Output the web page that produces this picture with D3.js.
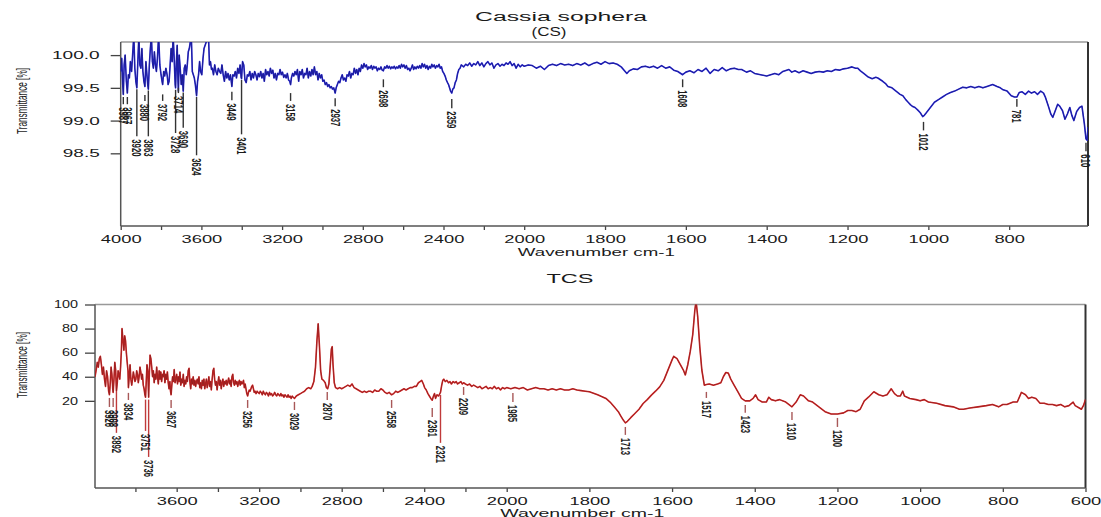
<!DOCTYPE html>
<html>
<head>
<meta charset="utf-8">
<script src="https://cdn.jsdelivr.net/npm/d3@7"></script>
<style>
  body { margin: 0; background: #fff; }
  text { font-family: "Liberation Sans", Arial, sans-serif; fill: #1a1a1a; }
</style>
</head>
<body>
<svg id="chart" width="1101" height="517"></svg>
<script>
// ---- data ----
// Cassia sophera (CS): [wavenumber, transmittance %]
const csSpectrum = [
  [4000,99.75],[3995,99.95],[3990,99.55],[3987,99.40],[3983,99.85],[3978,100.0],[3972,99.6],[3967,99.42],
  [3962,99.7],[3957,99.65],[3952,99.9],[3946,99.75],[3940,100.05],[3935,100.3],[3930,99.8],[3925,99.6],
  [3920,99.5],[3915,99.9],[3910,100.3],[3905,99.85],[3900,99.8],[3895,100.1],[3890,99.75],[3885,99.6],
  [3880,99.52],[3875,99.9],[3870,99.7],[3866,99.55],[3863,99.48],[3858,99.85],[3853,100.1],[3848,100.3],
  [3843,99.9],[3838,99.8],[3833,100.05],[3828,99.85],[3823,99.75],[3818,99.95],[3812,100.3],[3806,99.85],
  [3800,99.7],[3795,99.6],[3792,99.55],[3787,99.75],[3782,99.68],[3776,99.8],[3770,99.7],[3765,99.55],
  [3760,99.6],[3755,99.85],[3750,100.1],[3745,99.9],[3740,100.3],[3735,99.95],[3730,99.55],[3728,99.5],
  [3724,99.9],[3720,100.15],[3716,99.6],[3714,99.45],[3710,100.0],[3705,99.8],[3700,99.55],[3695,99.7],
  [3690,99.45],[3685,99.8],[3680,99.85],[3675,99.7],[3670,99.85],[3665,100.05],[3660,100.1],[3650,100.3],
  [3645,99.75],[3640,99.7],[3635,99.65],[3630,99.55],[3624,99.38],[3619,99.6],[3614,99.7],[3609,99.9],
  [3604,99.75],[3598,99.7],[3592,99.95],[3587,100.1],[3565,100.3],[3560,99.85],[3555,99.9],[3550,99.78],
  [3546,99.8],[3540,99.7],[3534,99.85],[3528,99.75],[3522,99.7],[3516,99.8],[3510,99.75],[3504,99.72],
  [3498,99.85],[3492,99.7],[3486,99.6],[3480,99.75],[3474,99.65],[3468,99.72],[3462,99.62],[3456,99.7],
  [3449,99.52],[3444,99.7],[3438,99.68],[3432,99.75],[3426,99.65],[3420,99.8],[3414,99.72],[3408,99.85],
  [3403,99.66],[3401,99.64],[3396,99.9],[3390,99.85],[3384,99.62],[3378,99.58],[3372,99.7],[3366,99.68],
  [3360,99.75],[3354,99.62],[3348,99.72],[3342,99.65],[3336,99.75],[3330,99.7],[3324,99.62],[3318,99.72],
  [3312,99.67],[3306,99.75],[3300,99.65],[3294,99.72],[3288,99.6],[3282,99.78],[3276,99.7],[3270,99.75],
  [3264,99.68],[3258,99.8],[3252,99.72],[3246,99.77],[3240,99.65],[3234,99.72],[3228,99.62],[3222,99.72],
  [3216,99.7],[3210,99.78],[3204,99.7],[3198,99.74],[3192,99.66],[3186,99.7],[3180,99.65],[3174,99.72],
  [3168,99.62],[3162,99.6],[3158,99.55],[3154,99.65],[3148,99.72],[3142,99.68],[3136,99.75],[3130,99.7],
  [3124,99.78],[3118,99.6],[3112,99.75],[3106,99.7],[3100,99.78],[3094,99.65],[3088,99.72],[3082,99.7],
  [3076,99.8],[3070,99.65],[3064,99.75],[3058,99.68],[3052,99.78],[3046,99.7],[3040,99.82],[3034,99.7],
  [3028,99.75],[3022,99.62],[3016,99.72],[3010,99.65],[3004,99.7],[2998,99.6],[2992,99.62],[2986,99.55],
  [2980,99.58],[2974,99.52],[2968,99.55],[2962,99.5],[2956,99.52],[2950,99.48],[2944,99.5],[2937,99.42],
  [2932,99.5],[2926,99.55],[2920,99.6],[2914,99.58],[2908,99.65],[2902,99.7],[2896,99.62],[2890,99.65],
  [2884,99.6],[2878,99.7],[2872,99.68],[2866,99.75],[2860,99.65],[2854,99.72],[2848,99.7],[2842,99.8],
  [2836,99.72],[2830,99.78],[2824,99.7],[2818,99.8],[2812,99.75],[2806,99.85],[2800,99.8],[2794,99.87],
  [2788,99.82],[2782,99.85],[2776,99.78],[2770,99.82],[2764,99.8],[2758,99.84],[2752,99.78],[2746,99.83],
  [2740,99.8],[2734,99.82],[2728,99.76],[2722,99.8],[2716,99.78],[2710,99.82],[2704,99.77],[2698,99.76],
  [2692,99.82],[2686,99.8],[2680,99.84],[2674,99.8],[2668,99.83],[2662,99.79],[2656,99.82],[2650,99.8],
  [2644,99.83],[2638,99.79],[2632,99.82],[2626,99.8],[2620,99.84],[2614,99.8],[2608,99.86],[2602,99.82],
  [2596,99.85],[2590,99.8],[2584,99.84],[2578,99.78],[2572,99.8],[2566,99.76],[2560,99.8],[2554,99.85],
  [2548,99.78],[2542,99.82],[2536,99.79],[2530,99.83],[2524,99.8],[2518,99.84],[2512,99.8],[2506,99.87],
  [2500,99.82],[2494,99.86],[2488,99.8],[2482,99.84],[2476,99.78],[2470,99.83],[2464,99.8],[2458,99.86],
  [2452,99.82],[2446,99.85],[2440,99.8],[2434,99.84],[2428,99.82],[2422,99.86],[2416,99.8],[2410,99.82],
  [2404,99.75],[2398,99.72],[2392,99.68],[2386,99.62],[2380,99.58],[2375,99.55],[2370,99.5],[2365,99.45],
  [2359,99.42],[2354,99.48],[2348,99.5],[2342,99.58],[2336,99.62],[2330,99.72],[2324,99.78],[2318,99.8],
  [2312,99.85],[2300,99.82],[2290,99.86],[2280,99.84],[2270,99.88],[2260,99.83],[2250,99.87],[2240,99.85],
  [2230,99.9],[2220,99.84],[2210,99.88],[2200,99.82],[2190,99.87],[2180,99.9],[2170,99.85],[2160,99.88],
  [2150,99.8],[2140,99.85],[2130,99.87],[2120,99.83],[2110,99.86],[2100,99.84],[2090,99.88],[2080,99.86],
  [2070,99.9],[2060,99.84],[2050,99.87],[2040,99.8],[2030,99.86],[2020,99.82],[2010,99.85],[2000,99.83],
  [1990,99.85],[1980,99.84],[1970,99.8],[1960,99.83],[1950,99.78],[1940,99.84],[1930,99.86],[1920,99.84],
  [1910,99.87],[1900,99.85],[1890,99.86],[1880,99.84],[1870,99.87],[1860,99.85],[1850,99.88],[1840,99.84],
  [1830,99.87],[1820,99.89],[1810,99.86],[1800,99.9],[1790,99.87],[1780,99.88],[1770,99.86],[1760,99.82],
  [1746,99.72],[1740,99.76],[1730,99.79],[1720,99.78],[1710,99.82],[1700,99.83],[1690,99.81],[1680,99.83],
  [1670,99.8],[1660,99.84],[1650,99.8],[1640,99.82],[1630,99.77],[1620,99.75],[1608,99.7],[1600,99.74],
  [1590,99.76],[1580,99.73],[1570,99.78],[1560,99.75],[1550,99.8],[1540,99.72],[1530,99.78],[1520,99.76],
  [1510,99.81],[1500,99.76],[1490,99.79],[1480,99.8],[1470,99.78],[1462,99.78],[1450,99.74],[1440,99.76],
  [1430,99.72],[1415,99.7],[1400,99.68],[1390,99.7],[1380,99.72],[1370,99.7],[1360,99.75],[1345,99.78],
  [1338,99.74],[1330,99.76],[1320,99.73],[1310,99.76],[1300,99.74],[1290,99.72],[1280,99.74],[1270,99.75],
  [1260,99.74],[1250,99.76],[1240,99.75],[1230,99.78],[1220,99.77],[1210,99.79],[1200,99.8],[1189,99.82],
  [1180,99.8],[1175,99.8],[1168,99.76],[1160,99.72],[1150,99.67],[1139,99.64],[1130,99.66],[1125,99.65],
  [1113,99.6],[1105,99.56],[1100,99.52],[1090,99.5],[1080,99.45],[1070,99.4],[1063,99.38],[1056,99.32],
  [1050,99.28],[1044,99.24],[1040,99.22],[1033,99.2],[1026,99.16],[1020,99.12],[1014,99.06],[1010,99.08],
  [1005,99.12],[995,99.2],[985,99.28],[975,99.32],[965,99.36],[955,99.4],[945,99.43],[935,99.45],
  [925,99.48],[915,99.51],[905,99.5],[895,99.52],[885,99.5],[875,99.52],[865,99.5],[855,99.52],
  [841,99.55],[830,99.52],[822,99.5],[815,99.47],[805,99.45],[795,99.38],[787,99.36],[781,99.36],
  [775,99.43],[768,99.44],[760,99.4],[752,99.45],[745,99.42],[737,99.44],[730,99.4],[722,99.45],
  [715,99.42],[710,99.35],[703,99.22],[697,99.1],[692,99.05],[686,99.15],[680,99.25],[675,99.22],
  [668,99.15],[662,99.02],[656,99.1],[650,99.2],[645,99.08],[640,99.0],[633,99.14],[626,99.2],
  [620,99.22],[614,98.95],[610,98.72],[607,98.7],[605,98.9]
];
// CS peak marks: [wavenumber, line start %, line end %]
const csPeaks = [
  [3987,99.36,99.25],[3967,99.36,99.25],[3920,99.48,98.76],[3880,99.39,99.30],[3863,99.46,98.76],
  [3792,99.40,99.30],[3728,99.47,98.81],[3714,99.50,99.42],[3690,99.43,98.89],[3624,99.36,98.47],
  [3449,99.44,99.31],[3401,99.62,98.79],[3158,99.42,99.30],[2937,99.34,99.22],[2698,99.63,99.51],
  [2359,99.33,99.19],[1608,99.63,99.51],[1012,98.98,98.85],[781,99.33,99.21],[610,98.66,98.53]
];

// TCS: [wavenumber, transmittance %]
const tcsSpectrum = [
  [3996,40],[3990,46],[3985,52],[3980,48],[3975,55],[3970,57],[3965,50],[3960,42],[3955,48],[3950,38],
  [3945,32],[3940,45],[3935,40],[3930,28],[3926,25],[3922,35],[3918,48],[3914,42],[3910,30],[3908,27],
  [3904,38],[3900,52],[3896,46],[3892,28],[3888,35],[3884,45],[3880,42],[3876,38],[3872,48],[3868,62],
  [3865,80],[3861,72],[3856,62],[3852,74],[3848,70],[3844,60],[3840,52],[3836,45],[3834,31],[3830,40],
  [3826,50],[3822,38],[3818,33],[3814,38],[3810,44],[3806,40],[3802,36],[3798,38],[3794,45],[3790,42],
  [3786,35],[3782,40],[3778,48],[3774,44],[3770,38],[3766,42],[3762,33],[3758,30],[3754,25],[3751,23],
  [3747,38],[3744,50],[3740,45],[3736,23],[3733,40],[3729,58],[3725,55],[3721,48],[3717,40],[3713,45],
  [3709,35],[3705,42],[3701,38],[3697,48],[3693,40],[3689,34],[3685,45],[3681,38],[3677,44],[3673,36],
  [3669,42],[3665,40],[3661,45],[3657,35],[3653,42],[3649,38],[3645,44],[3641,35],[3637,30],[3633,36],
  [3630,28],[3627,25],[3624,32],[3620,40],[3616,36],[3612,46],[3608,35],[3604,38],[3600,42],[3596,34],
  [3592,40],[3588,36],[3584,44],[3580,33],[3576,38],[3572,35],[3568,42],[3564,32],[3560,37],[3556,34],
  [3552,40],[3548,36],[3544,45],[3540,47],[3536,36],[3532,30],[3528,38],[3524,34],[3520,40],[3516,33],
  [3512,37],[3508,32],[3504,36],[3500,38],[3496,34],[3492,40],[3488,31],[3484,35],[3480,30],[3476,37],
  [3472,33],[3468,38],[3464,30],[3460,34],[3456,38],[3452,31],[3448,35],[3444,40],[3440,32],[3436,36],
  [3432,29],[3428,38],[3424,45],[3420,47],[3416,38],[3412,33],[3408,36],[3404,29],[3400,35],[3396,40],
  [3392,33],[3388,37],[3384,30],[3380,35],[3376,38],[3372,32],[3368,36],[3364,34],[3360,37],[3356,33],
  [3352,36],[3348,39],[3344,34],[3340,37],[3336,32],[3332,40],[3328,42],[3324,35],[3320,33],[3316,37],
  [3312,34],[3308,36],[3304,32],[3300,35],[3296,37],[3292,33],[3288,36],[3284,34],[3280,35],[3276,37],
  [3272,31],[3268,34],[3264,30],[3260,26],[3256,24],[3252,27],[3248,29],[3244,28],[3240,30],[3236,32],
  [3232,33],[3228,30],[3224,27],[3220,28],[3215,26],[3210,28],[3205,27],[3200,26],[3195,28],[3190,27],
  [3185,25],[3180,28],[3175,26],[3170,25],[3165,27],[3160,26],[3155,24],[3150,27],[3145,25],[3140,26],
  [3135,24],[3130,25],[3125,27],[3120,25],[3115,24],[3110,26],[3105,25],[3100,24],[3095,26],[3090,24],
  [3085,25],[3080,23],[3075,25],[3070,24],[3065,23],[3060,25],[3055,23],[3050,24],[3045,22],[3040,24],
  [3035,23],[3029,22],[3020,24],[3010,25],[3000,26],[2990,27],[2980,28],[2970,30],[2960,31],[2950,30],
  [2943,32],[2935,36],[2927,48],[2920,70],[2914,84],[2908,66],[2902,45],[2896,38],[2888,37],[2880,35],
  [2874,31],[2868,30],[2862,34],[2856,48],[2850,63],[2846,65],[2842,50],[2836,35],[2830,31],[2820,30],
  [2810,31],[2800,30],[2790,31],[2780,32],[2770,33],[2760,32],[2750,34],[2740,31],[2730,30],[2720,29],
  [2710,28],[2700,27],[2690,28],[2680,27],[2670,28],[2660,28],[2650,27],[2640,29],[2630,28],[2620,28],
  [2610,30],[2600,29],[2590,27],[2580,26],[2570,27],[2558,25],[2548,26],[2538,28],[2528,27],[2518,28],
  [2508,29],[2498,30],[2488,29],[2478,30],[2468,31],[2458,31],[2448,32],[2438,32],[2428,35],[2420,36],
  [2412,37],[2404,34],[2398,31],[2390,29],[2382,26],[2375,24],[2368,22],[2361,20.5],[2355,24],[2350,26],
  [2345,22],[2338,25],[2330,24],[2321,27],[2315,33],[2310,37],[2305,38],[2298,36],[2290,37],[2282,35],
  [2275,36],[2268,34],[2260,36],[2252,35],[2245,36],[2238,34],[2230,35],[2222,36],[2215,34],[2209,35],
  [2200,34],[2190,33],[2180,34],[2170,32],[2160,33],[2150,32],[2140,31],[2130,32],[2120,30],[2110,31],
  [2100,32],[2090,30],[2080,31],[2070,30],[2060,32],[2050,30],[2040,31],[2030,29],[2020,31],[2010,30],
  [2000,31],[1990,30],[1980,31],[1970,30],[1960,31],[1950,29],[1940,30],[1930,31],[1920,30],[1910,30],
  [1900,29],[1890,30],[1880,29],[1870,30],[1860,29],[1850,29],[1840,30],[1830,29],[1820,28.5],[1810,28],
  [1800,27.5],[1780,25],[1760,22],[1750,19],[1740,15],[1730,11],[1725,8],[1718,4],[1713,1.7],[1708,3],
  [1700,6],[1690,9.5],[1680,13],[1670,17.8],[1660,21],[1650,24.7],[1640,28],[1630,31.6],[1620,37],[1610,45.5],
  [1600,54],[1596,57],[1588,55],[1580,50],[1572,45],[1568,41.5],[1562,50],[1556,61],[1550,75],[1545,95],
  [1542,103],[1538,90],[1533,65],[1528,45.6],[1522,33],[1517,33.5],[1510,34],[1500,33],[1490,34],[1482,35],
  [1476,40],[1470,43.5],[1464,43],[1458,38],[1450,33],[1440,27],[1432,22],[1423,20],[1412,20],[1404,22],
  [1398,25],[1392,21],[1382,19],[1372,19],[1366,23],[1360,21],[1350,20],[1340,21],[1325,19],[1310,15],
  [1300,19],[1290,25],[1282,24],[1270,20],[1260,19],[1245,15],[1230,11],[1215,9],[1200,9],[1185,10],
  [1175,12],[1165,12],[1155,11],[1145,13],[1135,20],[1125,23],[1112,27.5],[1100,25],[1090,24],[1080,25],
  [1070,30],[1062,26],[1055,24],[1048,24],[1042,28],[1038,24],[1025,22],[1010,21],[1000,20],[990,21],
  [980,19],[960,18],[940,16],[920,15],[905,13],[895,13],[880,14],[860,15],[840,16],[825,17],
  [810,15],[800,17],[790,17],[775,19],[765,19],[755,27],[745,25],[738,22],[730,23],[720,22],
  [710,18],[700,18],[690,17],[680,17],[670,16],[660,17],[650,15],[640,16],[630,19],[625,16],
  [615,14],[610,13],[605,16],[600,21]
];
// TCS peak marks: [wavenumber, line start %, line end %]
const tcsPeaks = [
  [3926,22.4,14.9],[3908,22.4,14.9],[3892,27.4,-6.6],[3834,26.6,20.7],[3751,21,-5],[3736,21,-26.6],
  [3627,20.7,14.1],[3256,20.7,14.1],[3029,19.1,12.4],[2870,27.4,20.7],[2558,20.7,14.1],[2361,14.1,6.6],
  [2321,24.9,-14.9],[2209,31.5,24.9],[1985,26.6,19.1],[1713,-1.7,-8.3],[1517,27.4,22.4],[1423,16.6,10],
  [1310,10.8,4.1],[1200,5.8,-1.7]
];
const longLines = [3920, 3863, 3728, 3690, 3624, 3401, 3892, 3751, 3736, 2321];

const csYTicks = [100, 99.5, 99, 98.5];
const tcsYTicks = [20, 40, 60, 80, 100];
const xTicks = [4000,3800,3600,3400,3200,3000,2800,2600,2400,2200,2000,1800,1600,1400,1200,1000,800,600];
const xLabeled = [4000,3600,3200,2800,2400,2000,1800,1600,1400,1200,1000,800,600];

const svg = d3.select('#chart');

function panel(cfg) {
  var x = d3.scaleLinear().domain(cfg.xDomain).range(cfg.xRange);
  var y = d3.scaleLinear().domain(cfg.yDomain).range(cfg.yRange);
  var left = cfg.xRange[0], right = cfg.xRange[2];
  var top = cfg.yRange[1], bottom = cfg.yRange[0];
  var g = svg.append('g');

  g.append('clipPath').attr('id', cfg.id + '-clip')
    .append('rect')
    .attr('x', left).attr('y', top)
    .attr('width', right - left).attr('height', bottom - top);

  // x axis
  var xAxis = d3.axisBottom(x)
    .tickValues(xTicks.filter(function(d) { return d <= cfg.xDomain[0] && d >= cfg.xDomain[2]; }))
    .tickSize(4)
    .tickPadding(cfg.xPad)
    .tickFormat(function(d) { return xLabeled.indexOf(d) >= 0 ? d : ''; });
  var gx = g.append('g').attr('transform', `translate(0,${bottom})`).call(xAxis);
  gx.select('.domain').remove();
  gx.selectAll('line').attr('stroke', '#444').attr('stroke-width', 1.3);
  gx.selectAll('text')
    .attr('font-size', 11)
    .attr('fill', '#111')
    .each(function(d) {
      var s = xLabeled.indexOf(d) >= 0 ? String(d) : '';
      if (s) d3.select(this).attr('textLength', s.length * 10.2).attr('lengthAdjust', 'spacingAndGlyphs');
    });

  // y axis
  var yAxis = d3.axisLeft(y)
    .tickValues(cfg.yTicks)
    .tickSize(10)
    .tickPadding(cfg.yPad)
    .tickFormat(cfg.yFormat);
  var gy = g.append('g').attr('transform', `translate(${left},0)`).call(yAxis);
  gy.select('.domain').remove();
  gy.selectAll('line').attr('stroke', '#444').attr('stroke-width', 1.3);
  gy.selectAll('text')
    .attr('font-size', cfg.yFont)
    .attr('fill', '#111')
    .each(function(d) {
      var s = cfg.yFormat(d);
      var len = s.replace('.', '').length * cfg.yDigit + (s.indexOf('.') >= 0 ? 4.5 : 0);
      d3.select(this).attr('textLength', len).attr('lengthAdjust', 'spacingAndGlyphs');
    });

  // frame
  g.append('line').attr('x1', left).attr('x2', right).attr('y1', top).attr('y2', top)
    .attr('stroke', '#999').attr('stroke-width', 1.5);
  g.append('line').attr('x1', right).attr('x2', right).attr('y1', top).attr('y2', bottom)
    .attr('stroke', '#333').attr('stroke-width', 2);
  g.append('line').attr('x1', left).attr('x2', left).attr('y1', top).attr('y2', bottom)
    .attr('stroke', '#555').attr('stroke-width', 1.5);
  g.append('line').attr('x1', left).attr('x2', right).attr('y1', bottom).attr('y2', bottom)
    .attr('stroke', '#555').attr('stroke-width', 1.5);

  // spectrum
  var line = d3.line()
    .x(function(d) { return x(d[0]); })
    .y(function(d) { return y(d[1]); });
  var plot = g.append('g').attr('clip-path', `url(#${cfg.id}-clip)`);
  plot.append('path').datum(cfg.data)
    .attr('fill', 'none')
    .attr('stroke', cfg.color)
    .attr('stroke-width', 1.6)
    .attr('stroke-linejoin', 'round')
    .attr('d', line);
  plot.append('path').datum(cfg.data)
    .attr('fill', 'none')
    .attr('stroke', cfg.dark)
    .attr('stroke-width', 0.7)
    .attr('stroke-opacity', 0.8)
    .attr('stroke-linejoin', 'round')
    .attr('d', line);

  // peak marks
  var pk = g.append('g');
  pk.selectAll('line').data(cfg.peaks).enter().append('line')
    .attr('x1', function(d) { return x(d[0]); })
    .attr('x2', function(d) { return x(d[0]); })
    .attr('y1', function(d) { return y(d[1]); })
    .attr('y2', function(d) { return y(d[2]); })
    .attr('stroke', function(d) { return longLines.indexOf(d[0]) >= 0 ? cfg.longColor : cfg.markColor; })
    .attr('stroke-width', 1.4);
  pk.selectAll('text').data(cfg.peaks).enter().append('text')
    .attr('transform', function(d) { return `translate(${x(d[0])},${y(d[2]) + 3}) rotate(90)`; })
    .attr('dy', '0.36em')
    .attr('font-size', 12.5)
    .attr('font-weight', 'bold')
    .attr('fill', '#222')
    .attr('textLength', function(d) { return String(d[0]).length * 4.3; })
    .attr('lengthAdjust', 'spacingAndGlyphs')
    .text(function(d) { return d[0]; });

  // axis titles
  g.append('text')
    .attr('x', (left + right) / 2 - 8).attr('y', cfg.xTitleY)
    .attr('text-anchor', 'middle')
    .attr('font-size', 10)
    .attr('textLength', cfg.xTitleLen).attr('lengthAdjust', 'spacingAndGlyphs')
    .text('Wavenumber cm-1');
  g.append('text')
    .attr('transform', `translate(27,${cfg.yTitleMid}) rotate(-90)`)
    .attr('text-anchor', 'middle')
    .attr('font-size', 14)
    .attr('textLength', 66).attr('lengthAdjust', 'spacingAndGlyphs')
    .text('Transmittance [%]');
}

panel({
  id: 'cs',
  xDomain: [4000, 2000, 605], xRange: [120.7, 524.2, 1088],
  yDomain: [97.39, 100.2], yRange: [226, 42],
  yTicks: csYTicks, yFormat: d3.format('.1f'), yFont: 11, yDigit: 10.8, yPad: 11, xPad: 5,
  data: csSpectrum, peaks: csPeaks,
  color: '#2626d8', dark: '#1a1a66', markColor: '#333', longColor: '#333',
  xTitleY: 256, xTitleLen: 157, yTitleMid: 101
});

panel({
  id: 'tcs',
  xDomain: [3996, 2000, 600], xRange: [95, 506.7, 1085.5],
  yDomain: [-52.4, 100], yRange: [488, 304.5],
  yTicks: tcsYTicks, yFormat: d3.format('d'), yFont: 10, yDigit: 8, yPad: 7, xPad: 5,
  data: tcsSpectrum, peaks: tcsPeaks,
  color: '#d42626', dark: '#7a2020', markColor: '#a85858', longColor: '#c03a3a',
  xTitleY: 516.5, xTitleLen: 164, yTitleMid: 365
});

// chart titles
svg.append('text').attr('x', 561).attr('y', 21).attr('text-anchor', 'middle')
  .attr('font-size', 12.5).attr('textLength', 172).attr('lengthAdjust', 'spacingAndGlyphs')
  .text('Cassia sophera');
svg.append('text').attr('x', 549).attr('y', 36).attr('text-anchor', 'middle')
  .attr('font-family', '"Open Sans", sans-serif')
  .attr('font-size', 13).attr('textLength', 35).attr('lengthAdjust', 'spacingAndGlyphs')
  .text('(CS)');
svg.append('text').attr('x', 570).attr('y', 283).attr('text-anchor', 'middle')
  .attr('font-size', 13.5).attr('textLength', 47).attr('lengthAdjust', 'spacingAndGlyphs')
  .text('TCS');
</script>
</body>
</html>
